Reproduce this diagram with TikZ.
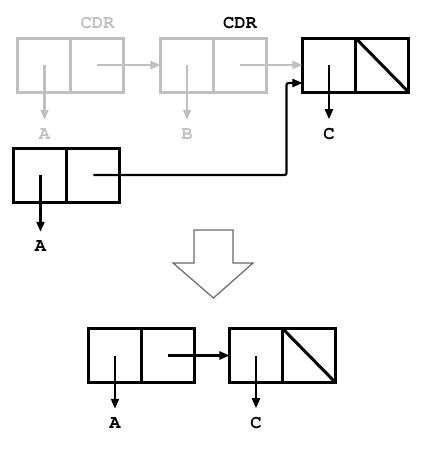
\documentclass[tikz,border=0pt]{standalone}
\usepackage[T1,TU]{fontenc}
\usepackage{tikz}
\usetikzlibrary{positioning,arrows.meta}
\definecolor{faded}{RGB}{192,192,192}
\definecolor{outline}{RGB}{105,105,105}
\newcommand{\lblfont}{\fontencoding{T1}\fontfamily{pcr}\fontseries{b}\fontsize{9.4pt}{11pt}\selectfont}

\begin{document}
\begin{tikzpicture}[x=0.5pt,y=-0.5pt,
                cell/.style={draw,line width=1.5pt,minimum width=26.5pt,minimum height=27pt,inner sep=0pt,outer sep=0pt},
                ptr/.style={line width=1.1pt,-{Triangle[length=5pt,width=4pt]}},
                lbl/.style={font=\lblfont,inner sep=0pt,outer sep=4.5pt}]
                \useasboundingbox (0,0) rectangle (428,452);
                \node [cell,faded] (a1) at (44.5,65) {};
                \node [cell,faded,right=0pt of a1] (d1) {};
                \node [cell,faded] (a2) at (187,65) {};
                \node [cell,faded,right=0pt of a2] (d2) {};
                \node [cell] (a3) at (329,65) {};
                \node [cell,right=0pt of a3] (d3) {};
                \draw [line width=1.5pt] (d3.north west) -- (d3.south east);
                \node [lbl,faded] (cdr1) at (97.5,23) {CDR};
                \node [lbl] (cdr2) at (240,23) {CDR};
                \node [lbl,faded] (la1) at (44.5,134) {A};
                \node [lbl,faded] (lb2) at (187,134) {B};
                \node [lbl] (lc3) at (329,134) {C};
                \draw [ptr,faded] (a1.center) -- (la1);
                \draw [ptr,faded] (d1.center) -- (a2.west);
                \draw [ptr,faded] (a2.center) -- (lb2);
                \draw [ptr,faded] (d2.center) -- (a3.west);
                \draw [ptr] (a3.center) -- (lc3);
                \node [cell] (a4) at (40.5,175) {};
                \node [cell,right=0pt of a4] (d4) {};
                \node [lbl] (la4) at (40.5,246) {A};
                \draw [ptr] (a4.center) -- (la4);
                \draw [ptr,rounded corners=1pt] (d4.center) -- ++(193,0) |- ([yshift=4.5pt]a3.south west);
                \draw [outline,line width=0.6pt] (194,230) -- (233,230) -- (233,263) -- (253,263) -- (213.5,298) -- (173,263) -- (194,263) -- cycle;
                \node [cell] (a5) at (115,355.5) {};
                \node [cell,right=0pt of a5] (d5) {};
                \node [cell] (a6) at (256,355.5) {};
                \node [cell,right=0pt of a6] (d6) {};
                \draw [line width=1.5pt] (d6.north west) -- (d6.south east);
                \node [lbl] (la5) at (115,423) {A};
                \node [lbl] (lc6) at (256,423) {C};
                \draw [ptr] (a5.center) -- (la5);
                \draw [ptr] (d5.center) -- (a6.west);
                \draw [ptr] (a6.center) -- (lc6);
                \end{tikzpicture}
\end{document}
